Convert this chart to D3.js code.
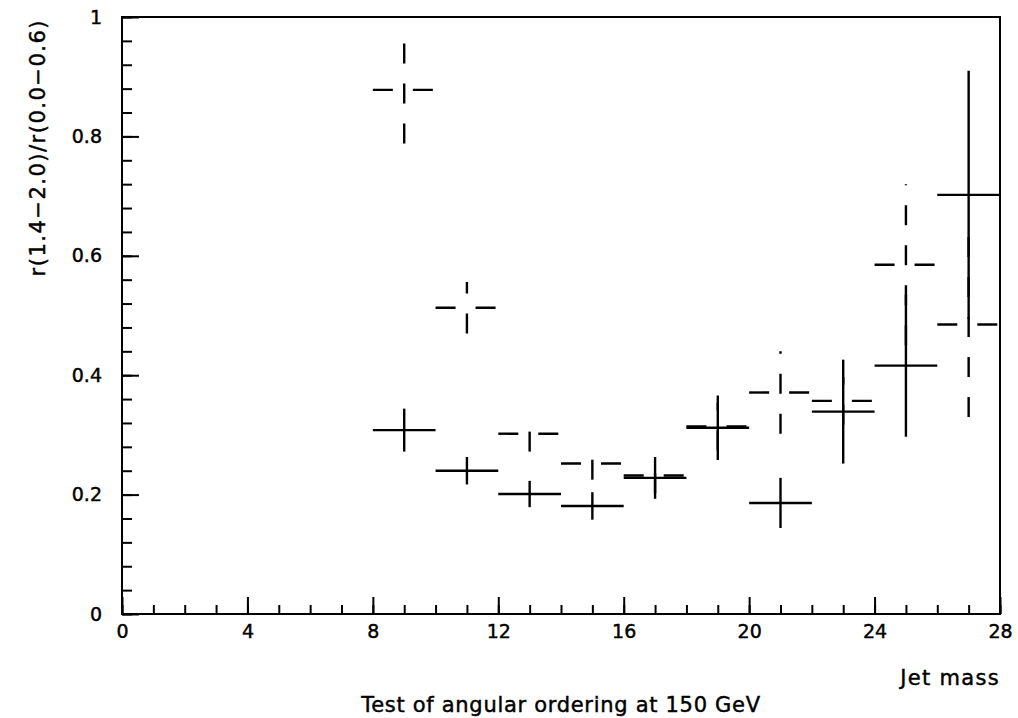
<!DOCTYPE html>
<html>
<head>
<meta charset="utf-8">
<script src="https://cdn.jsdelivr.net/npm/d3@7"></script>
<style>
    body { margin: 0; background: #fff; }
    text { font-family: "DejaVu Sans", sans-serif; fill: #000; stroke: #000; stroke-width: 0.45px; }
</style>
</head>
<body>
<div id="chart"></div>
<script>
// Bins of jet mass (width 2)
const binCenters = [9, 11, 13, 15, 17, 19, 21, 23, 25, 27];
const binHalfWidth = 1;

// Solid crosses
const solidValues = [0.308, 0.240, 0.201, 0.181, 0.228, 0.312, 0.186, 0.339, 0.416, 0.702];
const solidErrors = [0.036, 0.023, 0.022, 0.023, 0.035, 0.054, 0.042, 0.087, 0.119, 0.208];

// Dashed crosses
const dashedValues = [0.878, 0.513, 0.302, 0.252, 0.232, 0.314, 0.371, 0.357, 0.585, 0.485];
const dashedErrors = [0.090, 0.043, 0.030, 0.027, 0.030, 0.040, 0.069, 0.040, 0.135, 0.155];

// Axis ticks
const xMajorTicks = [0, 4, 8, 12, 16, 20, 24, 28];
const xMinorTicks = d3.range(0, 29, 1);
const yMajorTicks = [0, 0.2, 0.4, 0.6, 0.8, 1];
const yTickLabels = ["0", "0.2", "0.4", "0.6", "0.8", "1"];
const yMinorTicks = d3.range(0, 1.0001, 0.04);

const xTitle = "Jet mass";
const yTitle = "r(1.4\u22122.0)/r(0.0\u22120.6)";
const caption = "Test of angular ordering at 150 GeV";

function init() {
    const width = 1018;
    const height = 718;
    const margin = { top: 17, right: 18, bottom: 104, left: 122 };

    const svg = d3.select("#chart").append("svg")
        .attr("width", width)
        .attr("height", height);

    const x = d3.scaleLinear()
        .domain([0, 28])
        .range([margin.left, width - margin.right]);

    const y = d3.scaleLinear()
        .domain([0, 1])
        .range([height - margin.bottom, margin.top]);

    // Frame
    svg.append("rect")
        .attr("x", x(0))
        .attr("y", y(1))
        .attr("width", x(28) - x(0))
        .attr("height", y(0) - y(1))
        .attr("fill", "none")
        .attr("stroke", "#000")
        .attr("stroke-width", 2);

    // Minor ticks, bottom
    svg.append("g")
        .attr("transform", `translate(0,${y(0)})`)
        .call(d3.axisBottom(x).tickValues(xMinorTicks).tickSize(-9).tickSizeOuter(0).tickFormat(""))
        .call(g => g.select(".domain").remove());

    // Major ticks, bottom
    svg.append("g")
        .attr("class", "x-axis")
        .attr("transform", `translate(0,${y(0)})`)
        .call(d3.axisBottom(x).tickValues(xMajorTicks).tickSize(-17).tickSizeOuter(0).tickPadding(11))
        .call(g => g.select(".domain").remove());

    // Minor ticks, left
    svg.append("g")
        .attr("transform", `translate(${x(0)},0)`)
        .call(d3.axisLeft(y).tickValues(yMinorTicks).tickSize(-10).tickSizeOuter(0).tickFormat(""))
        .call(g => g.select(".domain").remove());

    // Major ticks, left
    svg.append("g")
        .attr("class", "y-axis")
        .attr("transform", `translate(${x(0)},0)`)
        .call(d3.axisLeft(y).tickValues(yMajorTicks).tickSize(-17).tickSizeOuter(0).tickPadding(20)
            .tickFormat((d, i) => yTickLabels[i]))
        .call(g => g.select(".domain").remove());

    svg.selectAll(".tick line")
        .attr("stroke", "#000")
        .attr("stroke-width", 2);

    svg.selectAll(".x-axis text, .y-axis text")
        .style("font-family", "DejaVu Sans, sans-serif")
        .style("font-size", "19px");

    // Titles
    svg.append("text")
        .attr("x", x(28))
        .attr("y", 685)
        .attr("text-anchor", "end")
        .style("font-size", "21px")
        .style("letter-spacing", "1.3px")
        .text(xTitle);

    svg.append("text")
        .attr("x", (x(0) + x(28)) / 2)
        .attr("y", 712)
        .attr("text-anchor", "middle")
        .style("font-size", "21px")
        .style("letter-spacing", "0.7px")
        .text(caption);

    svg.append("text")
        .attr("transform", `translate(45,${y(1) + 2}) rotate(-90)`)
        .attr("text-anchor", "end")
        .style("font-size", "21px")
        .style("letter-spacing", "1.5px")
        .text(yTitle);

    // Data
    const solid = binCenters.map((c, i) => ({ c: c, v: solidValues[i], e: solidErrors[i] }));
    const dashed = binCenters.map((c, i) => ({ c: c, v: dashedValues[i], e: dashedErrors[i] }));

    drawCrosses(svg, dashed, x, y, "20,20");
    drawCrosses(svg, solid, x, y, null);
}

function drawCrosses(svg, data, x, y, dash) {
    const g = svg.append("g");

    g.selectAll("line.h")
        .data(data)
        .join("line")
        .attr("class", "h")
        .attr("x1", d => x(d.c - binHalfWidth))
        .attr("x2", d => x(d.c + binHalfWidth))
        .attr("y1", d => y(d.v))
        .attr("y2", d => y(d.v))
        .attr("stroke", "#000")
        .attr("stroke-width", 2.4)
        .attr("stroke-dasharray", dash);

    // vertical drawn bottom to top
    g.selectAll("line.v")
        .data(data)
        .join("line")
        .attr("class", "v")
        .attr("x1", d => x(d.c))
        .attr("x2", d => x(d.c))
        .attr("y1", d => y(d.v - d.e))
        .attr("y2", d => y(d.v + d.e))
        .attr("stroke", "#000")
        .attr("stroke-width", 2.4)
        .attr("stroke-dasharray", dash);
}

window.addEventListener("load", init);
</script>
</body>
</html>
